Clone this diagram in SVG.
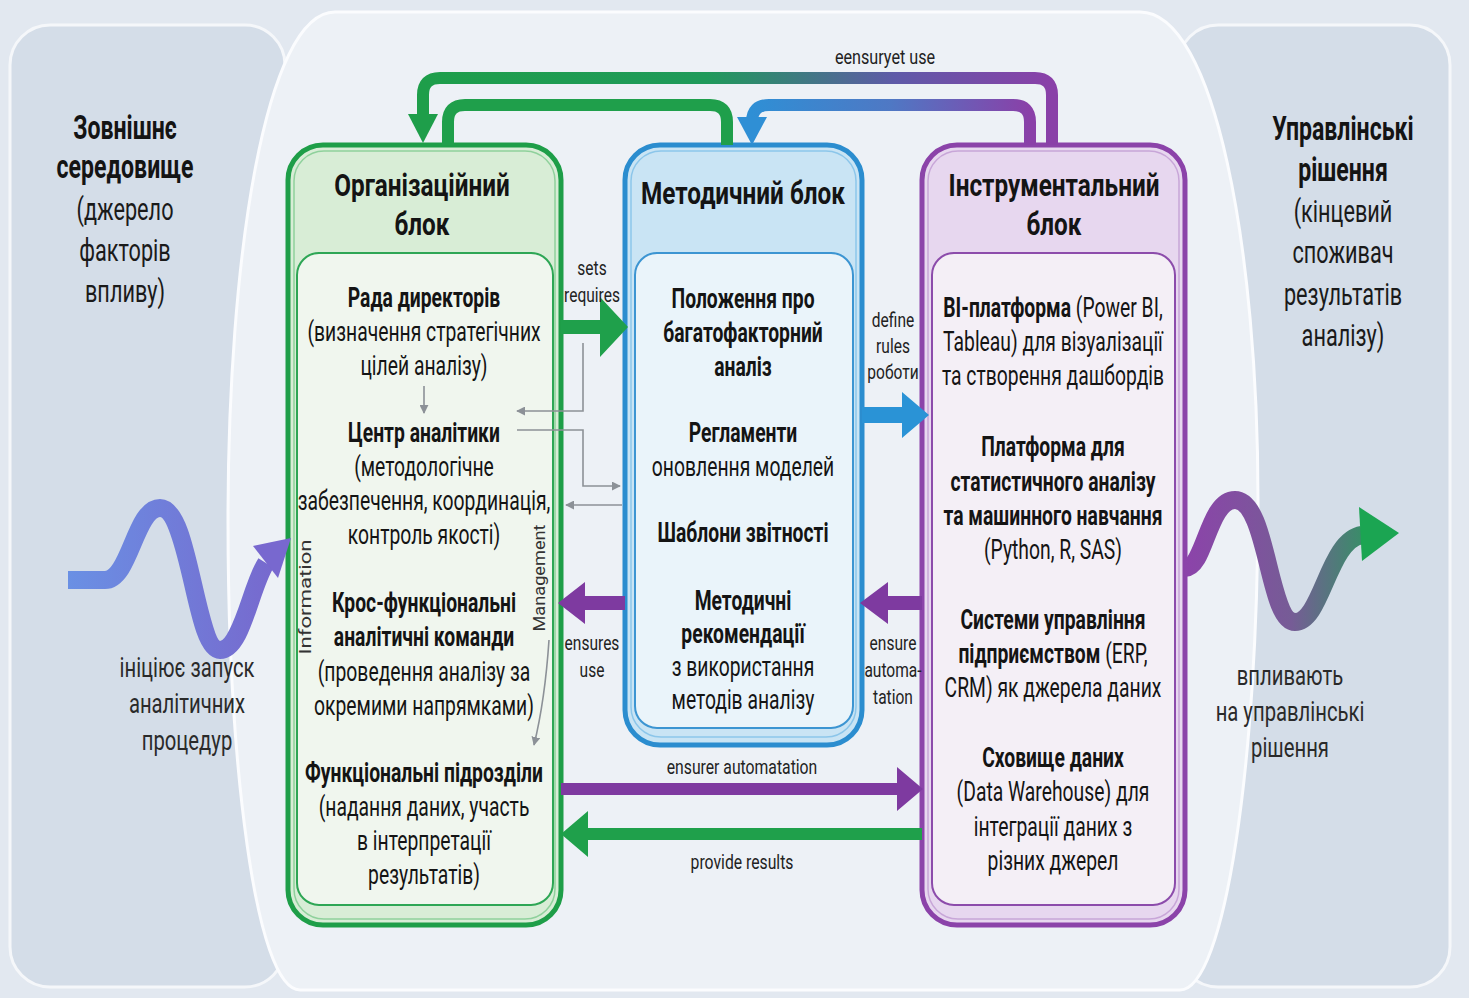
<svg xmlns="http://www.w3.org/2000/svg" width="1469" height="998" viewBox="0 0 1469 998">
<defs>
<style>
text{font-family:Roboto,"Liberation Sans",sans-serif;fill:#141414;text-anchor:middle}
.b{font-weight:700}
.t{font-size:28px}
.h{font-size:32px;font-weight:700}
.s{font-size:21px;fill:#222}
.side{font-size:31px;fill:#1a1a1a}
.sideb{font-size:33px;font-weight:700}
.wl{font-size:27px;fill:#2a2a2a}
.v{font-size:17px;fill:#333}
.thin{fill:none;stroke:#8c9197;stroke-width:1.6;marker-end:url(#ga)}
.loop{fill:none;stroke-width:12;stroke-linejoin:round}
</style>
<marker id="ga" viewBox="0 0 10 10" refX="9" refY="5" markerWidth="9" markerHeight="9" markerUnits="userSpaceOnUse" orient="auto">
<path d="M0,0 L10,5 L0,10 z" fill="#8c9197"/>
</marker>
<linearGradient id="gOuter" gradientUnits="userSpaceOnUse" x1="423" y1="0" x2="1052" y2="0">
<stop offset="0" stop-color="#1e9e4a"/><stop offset="0.45" stop-color="#1f9a5a"/><stop offset="0.75" stop-color="#5f5aa8"/><stop offset="1" stop-color="#8a40a8"/>
</linearGradient>
<linearGradient id="gBlue" gradientUnits="userSpaceOnUse" x1="752" y1="0" x2="1030" y2="0">
<stop offset="0" stop-color="#2f8fd5"/><stop offset="0.5" stop-color="#4f78c4"/><stop offset="1" stop-color="#8a40a8"/>
</linearGradient>
<linearGradient id="gWaveL" gradientUnits="userSpaceOnUse" x1="68" y1="0" x2="290" y2="0">
<stop offset="0" stop-color="#6a90e4"/><stop offset="1" stop-color="#7866cc"/>
</linearGradient>
<linearGradient id="gWaveR" gradientUnits="userSpaceOnUse" x1="1185" y1="0" x2="1398" y2="0">
<stop offset="0" stop-color="#8c43aa"/><stop offset="0.5" stop-color="#765c96"/><stop offset="1" stop-color="#1ba552"/>
</linearGradient>
</defs>

<rect x="0" y="0" width="1469" height="998" fill="#e2e8f0"/>

<g id="panel-left">
<rect x="10" y="25" width="275" height="962" rx="40" fill="#d4dde8" stroke="#f5f7fa" stroke-width="3"/>
</g>
<g id="panel-right">
<rect x="1178" y="25" width="272" height="962" rx="40" fill="#d4dde8" stroke="#f5f7fa" stroke-width="3"/>
</g>
<g id="panel-center">
<path d="M335 12 H1140 C1215 12 1258 250 1258 500 C1258 760 1225 990 1180 990 H300 C255 990 228 760 228 520 C228 260 265 12 335 12 Z" fill="#edf1f6" stroke="#fbfcfe" stroke-width="3"/>
</g>

<g id="panel-left-text" transform="translate(125 0) scale(0.7 1)">
<text class="sideb" x="0" y="139">Зовнішнє</text>
<text class="sideb" x="0" y="178">середовище</text>
<text class="side" x="0" y="220">(джерело</text>
<text class="side" x="0" y="261">факторів</text>
<text class="side" x="0" y="302">впливу)</text>
</g>
<g id="panel-right-text" transform="translate(1343 0) scale(0.7 1)">
<text class="sideb" x="0" y="140">Управлінські</text>
<text class="sideb" x="0" y="181">рішення</text>
<text class="side" x="0" y="222">(кінцевий</text>
<text class="side" x="0" y="263">споживач</text>
<text class="side" x="0" y="305">результатів</text>
<text class="side" x="0" y="346">аналізу)</text>
</g>

<g id="block-org">
<rect x="288" y="145" width="273" height="780" rx="35" fill="#d8edd6" stroke="#1e9e48" stroke-width="5"/>
<rect x="294" y="151" width="261" height="768" rx="30" fill="none" stroke="#8fd19c" stroke-width="1.5"/>
<rect x="297" y="253" width="256" height="652" rx="22" fill="#f0f6ee" stroke="#2ea655" stroke-width="2"/>
<g transform="translate(422 0) scale(0.76 1)">
<text class="h" x="0" y="196">Організаційний</text>
<text class="h" x="0" y="235">блок</text>
</g>
<g transform="translate(424 0) scale(0.69 1)">
<text class="t b" x="0" y="307">Рада директорів</text>
<text class="t" x="0" y="341">(визначення стратегічних</text>
<text class="t" x="0" y="375">цілей аналізу)</text>
<text class="t b" x="0" y="442">Центр аналітики</text>
<text class="t" x="0" y="476">(методологічне</text>
<text class="t" x="0" y="510">забезпечення, координація,</text>
<text class="t" x="0" y="544">контроль якості)</text>
<text class="t b" x="0" y="612">Крос-функціональні</text>
<text class="t b" x="0" y="646">аналітичні команди</text>
<text class="t" x="0" y="681">(проведення аналізу за</text>
<text class="t" x="0" y="715">окремими напрямками)</text>
<text class="t b" x="0" y="782">Функціональні підрозділи</text>
<text class="t" x="0" y="816">(надання даних, участь</text>
<text class="t" x="0" y="850">в інтерпретації</text>
<text class="t" x="0" y="884">результатів)</text>
</g>
<text class="v" transform="translate(311 597) rotate(-90)" x="0" y="0" textLength="115" lengthAdjust="spacingAndGlyphs">Information</text>
<text class="v" transform="translate(545 578) rotate(-90)" x="0" y="0" textLength="107" lengthAdjust="spacingAndGlyphs">Management</text>
</g>

<g id="block-method">
<rect x="625" y="145" width="237" height="600" rx="35" fill="#c9e4f4" stroke="#2b8dcf" stroke-width="5"/>
<rect x="631" y="151" width="225" height="586" rx="30" fill="none" stroke="#8cc6ea" stroke-width="1.5"/>
<rect x="635" y="253" width="218" height="475" rx="22" fill="#eaf4fa" stroke="#3c95d2" stroke-width="2"/>
<g transform="translate(743 0) scale(0.76 1)">
<text class="h" x="0" y="204">Методичний блок</text>
</g>
<g transform="translate(743 0) scale(0.69 1)">
<text class="t b" x="0" y="308">Положення про</text>
<text class="t b" x="0" y="342">багатофакторний</text>
<text class="t b" x="0" y="376">аналіз</text>
<text class="t b" x="0" y="442">Регламенти</text>
<text class="t" x="0" y="476">оновлення моделей</text>
<text class="t b" x="0" y="542">Шаблони звітності</text>
<text class="t b" x="0" y="610">Методичні</text>
<text class="t b" x="0" y="643">рекомендації</text>
<text class="t" x="0" y="676">з використання</text>
<text class="t" x="0" y="709">методів аналізу</text>
</g>
</g>

<g id="block-instr">
<rect x="922" y="145" width="263" height="780" rx="35" fill="#e7d7ef" stroke="#8b43a9" stroke-width="5"/>
<rect x="928" y="151" width="251" height="768" rx="30" fill="none" stroke="#c8a6d8" stroke-width="1.5"/>
<rect x="932" y="253" width="243" height="652" rx="22" fill="#f4eff6" stroke="#8c4cab" stroke-width="2"/>
<g transform="translate(1054 0) scale(0.76 1)">
<text class="h" x="0" y="196">Інструментальний</text>
<text class="h" x="0" y="235">блок</text>
</g>
<g transform="translate(1053 0) scale(0.69 1)">
<text class="t" x="0" y="317"><tspan class="b">BI-платформа</tspan> (Power BI,</text>
<text class="t" x="0" y="351">Tableau) для візуалізації</text>
<text class="t" x="0" y="385">та створення дашбордів</text>
<text class="t b" x="0" y="456">Платформа для</text>
<text class="t b" x="0" y="491">статистичного аналізу</text>
<text class="t b" x="0" y="525">та машинного навчання</text>
<text class="t" x="0" y="559">(Python, R, SAS)</text>
<text class="t b" x="0" y="629">Системи управління</text>
<text class="t" x="0" y="663"><tspan class="b">підприємством</tspan> (ERP,</text>
<text class="t" x="0" y="697">CRM) як джерела даних</text>
<text class="t b" x="0" y="767">Сховище даних</text>
<text class="t" x="0" y="801">(Data Warehouse) для</text>
<text class="t" x="0" y="836">інтеграції даних з</text>
<text class="t" x="0" y="870">різних джерел</text>
</g>
</g>

<g id="connectors">
<path class="loop" stroke="url(#gOuter)" d="M1052 145 V95 Q1052 78 1035 78 H440 Q423 78 423 95 V118"/>
<polygon points="408,114 438,114 423,143" fill="#1e9e4a"/>
<path class="loop" stroke="#1f9f4b" d="M448 145 V122 Q448 105 465 105 H710 Q727 105 727 122 V145"/>
<path class="loop" stroke="url(#gBlue)" d="M1030 145 V122 Q1030 105 1013 105 H769 Q752 105 752 122 V122"/>
<polygon points="737,117 767,117 752,145" fill="#2f8fd5"/>

<polygon points="561,320 600,320 600,297 628,327 600,357 600,334 561,334" fill="#1fa04b"/>
<polygon points="862,407 902,407 902,392 929,415 902,438 902,423 862,423" fill="#2a93d6"/>
<polygon points="625,596 585,596 585,582 558,603 585,624 585,610 625,610" fill="#7e3aa0"/>
<polygon points="922,596 888,596 888,582 860,603 888,624 888,610 922,610" fill="#7e3aa0"/>
<polygon points="561,783 897,783 897,767 923,789 897,811 897,795 561,795" fill="#7e3aa0"/>
<polygon points="922,828 588,828 588,811 561,834 588,857 588,840 922,840" fill="#1fa04b"/>

<path class="thin" d="M583 343 V411 H517"/>
<path class="thin" d="M517 430 H583 V486 H620"/>
<path class="thin" d="M622 505 H566"/>
<path class="thin" d="M424 386 V413"/>
<path class="thin" d="M549 640 Q545 700 534 745"/>

<path fill="none" stroke="url(#gWaveL)" stroke-width="18" d="M68 580 H105 C130 580 135 508 160 508 C190 508 195 650 220 650 C242 650 250 588 266 563"/>
<polygon points="291,538 253,546 278,578" fill="#7868cf"/>
<path fill="none" stroke="url(#gWaveR)" stroke-width="18" d="M1185 568 C1205 568 1208 500 1235 500 C1268 500 1268 622 1295 622 C1322 622 1328 540 1362 535"/>
<polygon points="1399,533 1359,507 1362,561" fill="#1ba552"/>

<g transform="translate(592 0) scale(0.74 1)">
<text class="s" x="0" y="275">sets</text>
<text class="s" x="0" y="302">requires</text>
<text class="s" x="0" y="650">ensures</text>
<text class="s" x="0" y="677">use</text>
</g>
<g transform="translate(893 0) scale(0.74 1)">
<text class="s" x="0" y="327">define</text>
<text class="s" x="0" y="353">rules</text>
<text class="s" x="0" y="379">роботи</text>
<text class="s" x="0" y="650">ensure</text>
<text class="s" x="0" y="677">automa-</text>
<text class="s" x="0" y="704">tation</text>
</g>
<g transform="translate(742 0) scale(0.75 1)">
<text class="s" x="0" y="774">ensurer automatation</text>
<text class="s" x="0" y="869">provide results</text>
</g>
<g transform="translate(885 0) scale(0.77 1)">
<text class="s" x="0" y="64">eensuryet use</text>
</g>
<g transform="translate(187 0) scale(0.75 1)">
<text class="wl" x="0" y="677">ініціює запуск</text>
<text class="wl" x="0" y="713">аналітичних</text>
<text class="wl" x="0" y="750">процедур</text>
</g>
<g transform="translate(1290 0) scale(0.75 1)">
<text class="wl" x="0" y="685">впливають</text>
<text class="wl" x="0" y="721">на управлінські</text>
<text class="wl" x="0" y="757">рішення</text>
</g>
</g>
</svg>
